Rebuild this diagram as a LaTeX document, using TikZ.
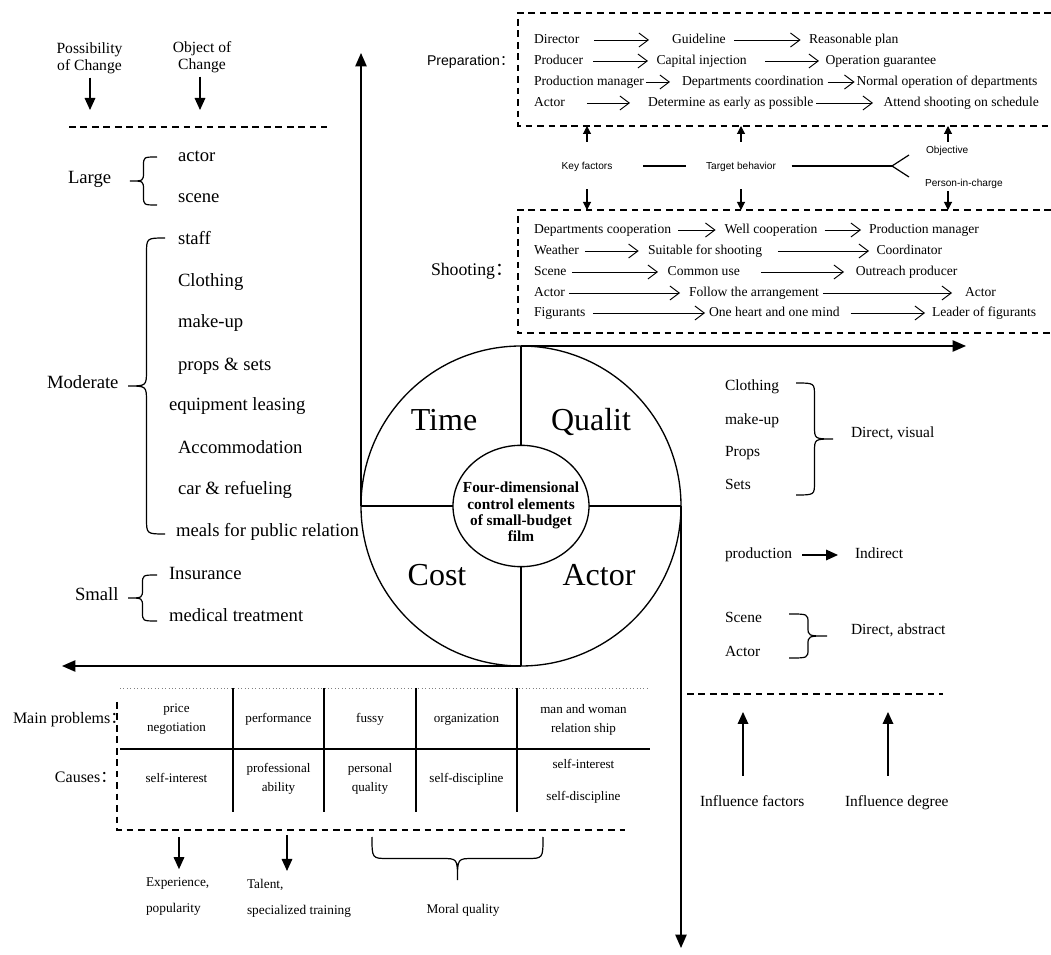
\documentclass[tikz,border=0pt]{standalone}
\usepackage{fontspec}
\setmainfont{Liberation Serif}
\newfontfamily\sansf{Liberation Sans}
\newfontfamily\cjk{Noto Sans CJK SC}
\usetikzlibrary{arrows.meta,shapes.geometric}

% curly brace opening sideways: arm x, tip x, top y, bottom y, corner size
\newcommand\sidebrace[5]{%
  \draw[pen] (#1,#3) .. controls ({(#1+#2)/2},#3) .. ({(#1+#2)/2},{#3+#5})
    -- ({(#1+#2)/2},{(#3+#4)/2-#5}) .. controls ({(#1+#2)/2},{(#3+#4)/2}) .. (#2,{(#3+#4)/2})
    .. controls ({(#1+#2)/2},{(#3+#4)/2}) .. ({(#1+#2)/2},{(#3+#4)/2+#5})
    -- ({(#1+#2)/2},{#4-#5}) .. controls ({(#1+#2)/2},#4) .. (#1,#4);}
% curly brace opening downwards: arm y, tip y, left x, right x, corner size
\newcommand\downbrace[5]{%
  \draw[pen] (#3,#1) .. controls (#3,{(#1+#2)/2}) .. ({#3+#5},{(#1+#2)/2})
    -- ({(#3+#4)/2-#5},{(#1+#2)/2}) .. controls ({(#3+#4)/2},{(#1+#2)/2}) .. ({(#3+#4)/2},#2)
    .. controls ({(#3+#4)/2},{(#1+#2)/2}) .. ({(#3+#4)/2+#5},{(#1+#2)/2})
    -- ({#4-#5},{(#1+#2)/2}) .. controls (#4,{(#1+#2)/2}) .. (#4,#1);}

\begin{document}
\begin{tikzpicture}[x=0.75pt,y=-0.75pt,
  every node/.style={inner sep=0pt,outer sep=0pt},
  pen/.style={line width=0.9pt},
  dashline/.style={line width=0.9pt,dash pattern=on 5pt off 3.6pt},
  axisarrow/.style={line width=1pt,-{Triangle[length=10pt,width=8.5pt]}},
  midarrow/.style={line width=0.9pt,-{Triangle[length=9pt,width=8pt]}},
  smallarrow/.style={line width=0.8pt,-{Triangle[length=6pt,width=6pt]}},
  barb/.style={line width=0.7pt,-{Straight Barb[length=7pt,width=10.5pt]}},
  gp/.style 2 args={shorten <=#1*0.75pt,shorten >=#2*0.75pt},
  oneline/.style={text height=0.7em,text depth=0.22em},
  boxtxt/.style={oneline,anchor=west,font=\fontsize{10.2}{12}\selectfont},
  listtxt/.style={oneline,anchor=west,font=\fontsize{14}{16}\selectfont},
  sidetxt/.style={oneline,anchor=west,font=\fontsize{11.6}{14}\selectfont},
  celltxt/.style={align=center,font=\fontsize{9.8}{14.25}\selectfont},
  keytxt/.style={oneline,font=\sansf\fontsize{7.6}{9}\selectfont},
  quadtxt/.style={oneline,font=\fontsize{24}{28}\selectfont},
  undertxt/.style={align=left,anchor=west,font=\fontsize{10}{19.5}\selectfont},
]
\useasboundingbox (0,0) rectangle (1051,955);

% ---------- header of the cost lists ----------
\node[align=center,font=\fontsize{11.7}{12.8}\selectfont] (poss) at (89.5,58) {Possibility\\of Change};
\node[align=center,font=\fontsize{11.7}{12.8}\selectfont] (objc) at (202,57) {Object of\\Change};
\coordinate (possend) at (90,110);
\coordinate (objcend) at (200,110);
\draw[midarrow,gp={4}{0}] (possend |- poss.south) -- (possend);
\draw[midarrow,gp={4}{0}] (objcend |- objc.south) -- (objcend);
\draw[dashline] (69,127) -- (327,127);

% ---------- cost lists ----------
\node[listtxt] (large) at (68,180) {Large};
\node[listtxt] (lg1) at (178,158) {actor};
\node[listtxt] (lg2) at (178,199) {scene};
\sidebrace{157}{130}{157}{205}{9}

\node[listtxt] (moderate) at (47,385) {Moderate};
\node[listtxt] (md1) at (178,241) {staff};
\node[listtxt] (md2) at (178,283) {Clothing};
\node[listtxt] (md3) at (178,324) {make-up};
\node[listtxt] (md4) at (178,367) {props \& sets};
\node[listtxt] (md5) at (169,407) {equipment leasing};
\node[listtxt] (md6) at (178,450) {Accommodation};
\node[listtxt] (md7) at (178,491) {car \& refueling};
\node[listtxt] (md8) at (176,533) {meals for public relation};
\sidebrace{165}{128}{238}{534}{16}

\node[listtxt] (small) at (75,597) {Small};
\node[listtxt] (sm1) at (169,576) {Insurance};
\node[listtxt] (sm2) at (169,618) {medical treatment};
\sidebrace{157}{128}{575}{621}{9}

% ---------- central wheel ----------
\node[circle,draw,line width=1pt,minimum size=240pt] (ring) at (521,506) {};
\node[ellipse,draw,line width=1pt,minimum width=102pt,minimum height=91pt] (core) at (521,506) {};
\node[align=center,font=\bfseries\fontsize{11.5}{12.2}\selectfont] (coretxt) at (521,512)
  {Four-dimensional\\control elements\\of small-budget\\film};
\draw[line width=1pt] (ring.north) -- (core.north) (core.south) -- (ring.south)
  (ring.west) -- (core.west) (core.east) -- (ring.east);
\node[quadtxt] (time) at (444,427) {Time};
\node[quadtxt] (qual) at (591,427) {Qualit};
\node[quadtxt] (cost) at (437,582) {Cost};
\node[quadtxt] (actq) at (599,582) {Actor};

% ---------- axes ----------
\coordinate (upend) at (361,53);
\coordinate (rightend) at (966,346);
\coordinate (leftend) at (62,666);
\coordinate (downend) at (681,948);
\draw[axisarrow] (ring.west) -- (upend);
\draw[axisarrow] (ring.north) -- (rightend);
\draw[axisarrow] (ring.south) -- (leftend);
\draw[axisarrow] (ring.east) -- (downend);

% ---------- preparation block ----------
\draw[dashline] (1051,13) -- (518,13) -- (518,126) -- (1051,126);
\node[oneline,anchor=west,font=\sansf\fontsize{10.6}{12}\selectfont] (prep) at (427,62) {Preparation{\cjk ：}};
\node[boxtxt] (d1) at (534,40) {Director};
\node[boxtxt] (d2) at (672,40) {Guideline};
\node[boxtxt] (d3) at (809,40) {Reasonable plan};
\node[boxtxt] (p1) at (534,61) {Producer};
\node[boxtxt] (p2) at (656.5,61) {Capital injection};
\node[boxtxt] (p3) at (825.5,61) {Operation guarantee};
\node[boxtxt] (m1) at (534,82) {Production manager};
\node[boxtxt] (m2) at (682,82) {Departments coordination};
\node[boxtxt] (m3) at (856.6,82) {Normal operation of departments};
\node[boxtxt] (a1) at (534,103) {Actor};
\node[boxtxt] (a2) at (648,103) {Determine as early as possible};
\node[boxtxt] (a3) at (883.6,103) {Attend shooting on schedule};
\draw[barb,gp={15}{23}] (d1.east) -- (d2.west);
\draw[barb,gp={8.4}{8.4}] (d2.east) -- (d3.west);
\draw[barb,gp={10}{8.5}] (p1.east) -- (p2.west);
\draw[barb,gp={18.5}{6.5}] (p2.east) -- (p3.west);
\draw[barb,gp={2}{12}] (m1.east) -- (m2.west);
\draw[barb,gp={4}{2}] (m2.east) -- (m3.west);
\draw[barb,gp={22}{18}] (a1.east) -- (a2.west);
\draw[barb,gp={3}{10.6}] (a2.east) -- (a3.west);

% ---------- link between the two blocks ----------
\coordinate (prepS) at (0,126);
\coordinate (shootN) at (0,210);
\node[keytxt] (kf) at (587,166) {Key factors};
\node[keytxt] (tb) at (741,166) {Target behavior};
\node[keytxt,anchor=west] (obj) at (926,150) {Objective};
\node[keytxt,anchor=west] (pic) at (925,183) {Person-in-charge};
\coordinate (fork) at (892,166);
\coordinate (forkup) at (909,155);
\coordinate (forkdn) at (909,177);
\draw[pen,gp={31}{19.6}] (kf.east) -- (tb.west);
\draw[pen,gp={15.6}{0}] (tb.east) -- (fork);
\draw[pen] (forkup) -- (fork) -- (forkdn);
\coordinate (objx) at (948,0);
\draw[smallarrow,gp={18}{0}] (kf.north) -- (kf.north |- prepS);
\draw[smallarrow,gp={18}{0}] (tb.north) -- (tb.north |- prepS);
\draw[smallarrow,gp={2}{0}] (objx |- obj.north) -- (objx |- prepS);
\draw[smallarrow,gp={17}{0}] (kf.south) -- (kf.south |- shootN);
\draw[smallarrow,gp={17}{0}] (tb.south) -- (tb.south |- shootN);
\draw[smallarrow,gp={2}{0}] (objx |- pic.south) -- (objx |- shootN);

% ---------- shooting block ----------
\draw[dashline] (1051,210) -- (518,210) -- (518,333) -- (1051,333);
\node[oneline,anchor=west,font=\fontsize{13.3}{15}\selectfont] (shoot) at (431,272) {Shooting{\cjk ：}};
\node[boxtxt] (s1a) at (534,230) {Departments cooperation};
\node[boxtxt] (s1b) at (724.6,230) {Well cooperation};
\node[boxtxt] (s1c) at (869,230) {Production manager};
\node[boxtxt] (s2a) at (534,251) {Weather};
\node[boxtxt] (s2b) at (648,251) {Suitable for shooting};
\node[boxtxt] (s2c) at (876.5,251) {Coordinator};
\node[boxtxt] (s3a) at (534,272) {Scene};
\node[boxtxt] (s3b) at (667.7,272) {Common use};
\node[boxtxt] (s3c) at (855.8,272) {Outreach producer};
\node[boxtxt] (s4a) at (534,293) {Actor};
\node[boxtxt] (s4b) at (689,293) {Follow the arrangement};
\node[boxtxt] (s4c) at (965,293) {Actor};
\node[boxtxt] (s5a) at (534,313) {Figurants};
\node[boxtxt] (s5b) at (709,313) {One heart and one mind};
\node[boxtxt] (s5c) at (932,313) {Leader of figurants};
\draw[barb,gp={7}{9}] (s1a.east) -- (s1b.west);
\draw[barb,gp={7}{8}] (s1b.east) -- (s1c.west);
\draw[barb,gp={6}{9.3}] (s2a.east) -- (s2b.west);
\draw[barb,gp={15.7}{7.5}] (s2b.east) -- (s2c.west);
\draw[barb,gp={5.5}{9.7}] (s3a.east) -- (s3b.west);
\draw[barb,gp={21}{11.8}] (s3b.east) -- (s3c.west);
\draw[barb,gp={4}{9}] (s4a.east) -- (s4b.west);
\draw[barb,gp={4}{13}] (s4b.east) -- (s4c.west);
\draw[barb,gp={7.6}{4}] (s5a.east) -- (s5b.west);
\draw[barb,gp={11}{7}] (s5b.east) -- (s5c.west);

% ---------- quality factors ----------
\node[sidetxt] (q1) at (725,387) {Clothing};
\node[sidetxt] (q2) at (725,421) {make-up};
\node[sidetxt] (q3) at (725,453) {Props};
\node[sidetxt] (q4) at (725,486) {Sets};
\sidebrace{796}{833}{383}{495}{13}
\node[sidetxt] (dv) at (851,434) {Direct, visual};
\node[sidetxt] (prod) at (725,555) {production};
\node[sidetxt] (indir) at (855,555) {Indirect};
\draw[midarrow,gp={10}{17}] (prod.east) -- (indir.west);
\node[sidetxt] (q5) at (725,619) {Scene};
\node[sidetxt] (q6) at (725,653) {Actor};
\sidebrace{789}{827}{614}{658}{9}
\node[sidetxt] (da) at (851,631) {Direct, abstract};
\draw[dashline] (687,694) -- (943,694);
\node[sidetxt] (inff) at (700,803) {Influence factors};
\node[sidetxt] (infd) at (845,803) {Influence degree};
\coordinate (ia) at (743,712);
\coordinate (ib) at (888,712);
\draw[midarrow,gp={21}{0}] (ia |- inff.north) -- (ia);
\draw[midarrow,gp={21}{0}] (ib |- infd.north) -- (ib);

% ---------- problem table ----------
\draw[dotted,line width=0.6pt,gray] (120,688) -- (650,688);
\draw[line width=1.4pt] (120,749) -- (650,749);
\foreach \cx in {233,324,416,517} \draw[line width=1.1pt] (\cx,688) -- (\cx,812);
\draw[dashline] (117,702) -- (117,830) -- (625,830);
\node[oneline,anchor=west,font=\fontsize{12}{14}\selectfont] (mainp) at (13,720) {Main problems{\cjk ：}};
\node[oneline,anchor=west,font=\fontsize{12}{14}\selectfont] (causes) at (55,779) {Causes{\cjk ：}};
\node[celltxt] (c11) at (176.5,719.5) {price\\negotiation};
\node[celltxt,oneline] (c12) at (278.5,719) {performance};
\node[celltxt,oneline] (c13) at (370,719) {fussy};
\node[celltxt,oneline] (c14) at (466.5,719) {organization};
\node[celltxt] (c15) at (583.5,719.5) {man and woman\\relation ship};
\node[celltxt,oneline] (c21) at (176.5,779) {self-interest};
\node[celltxt] (c22) at (278.5,779) {professional\\ability};
\node[celltxt] (c23) at (370,779) {personal\\quality};
\node[celltxt,oneline] (c24) at (466.5,779) {self-discipline};
\node[align=center,font=\fontsize{9.8}{24}\selectfont] (c25) at (583.5,781) {self-interest\\self-discipline};

% ---------- roots of the problems ----------
\node[undertxt] (exper) at (146,897) {Experience,\\popularity};
\node[undertxt] (talent) at (247,898.5) {Talent,\\specialized training};
\node[oneline,font=\fontsize{10}{12}\selectfont] (moral) at (463,910) {Moral quality};
\coordinate (ua) at (179,837);
\coordinate (ub) at (287,835);
\draw[midarrow,gp={0}{9}] (ua) -- (ua |- exper.north);
\draw[midarrow,gp={0}{8.5}] (ub) -- (ub |- talent.north);
\downbrace{837}{880}{372}{543}{16}
\end{tikzpicture}
\end{document}
